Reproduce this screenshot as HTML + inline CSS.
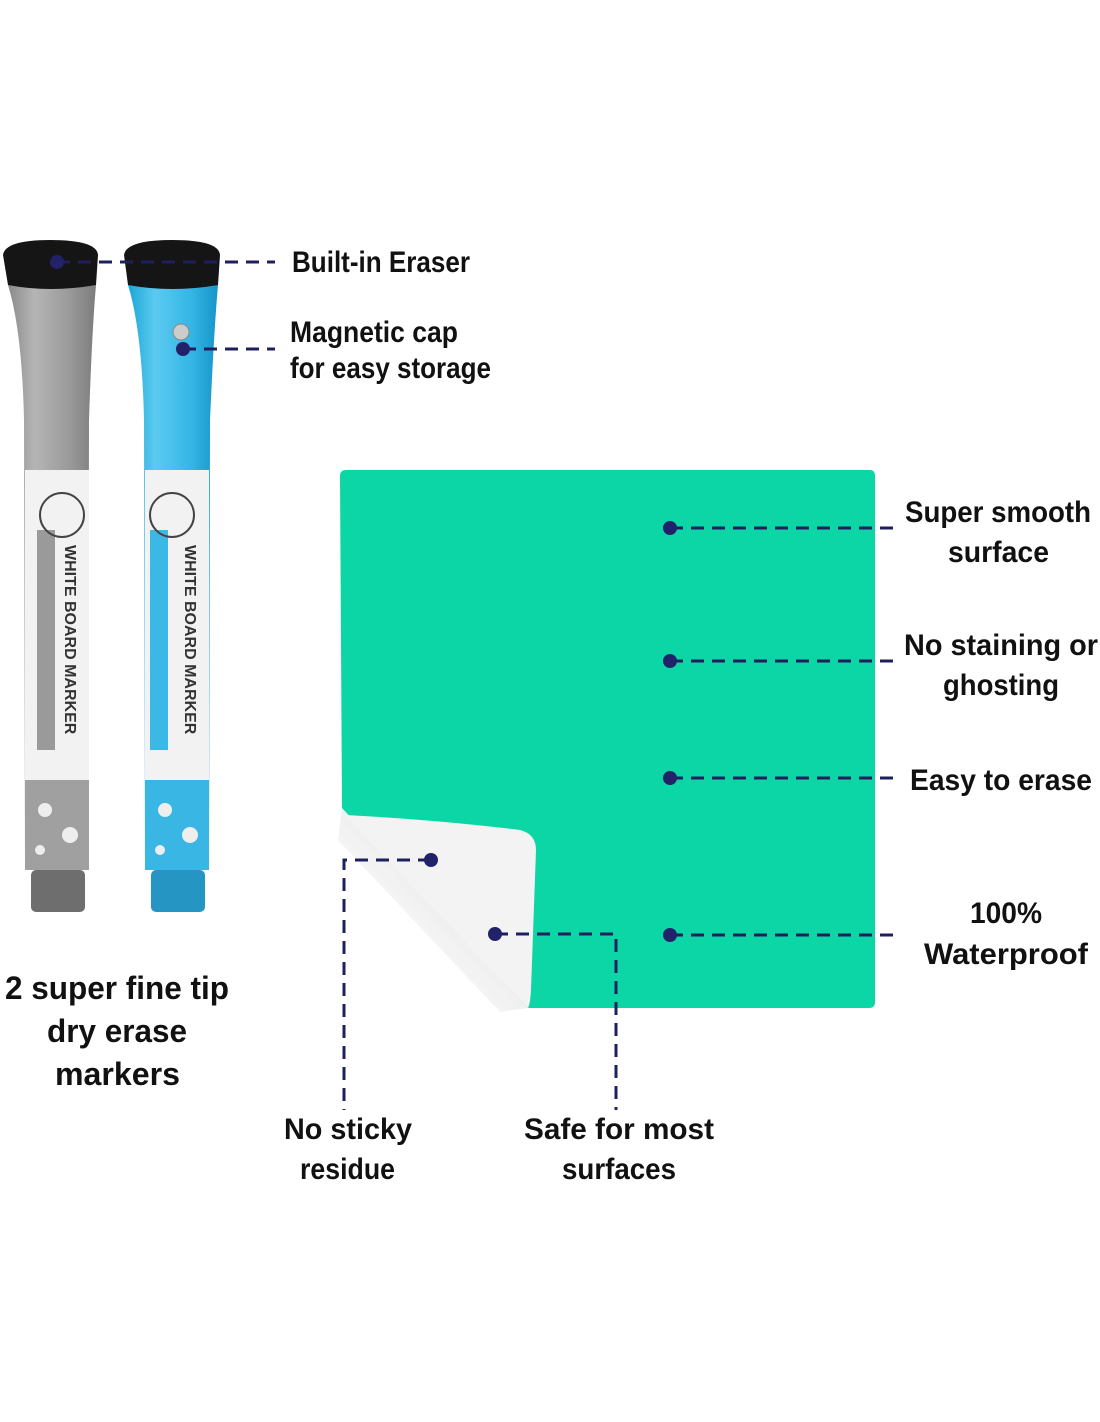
<!DOCTYPE html>
<html><head><meta charset="utf-8"><style>
html,body{margin:0;padding:0;background:#fff;}
svg{display:block;}
text{font-family:"Liberation Sans",sans-serif;font-weight:bold;fill:#111;font-size:30px;}
.d{stroke:#1f1f5e;stroke-width:3;stroke-dasharray:13 8;fill:none;}
.dot{fill:#22226a;}
</style></head><body>
<svg width="1100" height="1422" viewBox="0 0 1100 1422" xmlns="http://www.w3.org/2000/svg">
<defs>
<linearGradient id="gr" x1="0" x2="1"><stop offset="0" stop-color="#8a8a8a"/><stop offset=".3" stop-color="#b5b5b5"/><stop offset=".7" stop-color="#9a9a9a"/><stop offset="1" stop-color="#7c7c7c"/></linearGradient>
<linearGradient id="bl" x1="0" x2="1"><stop offset="0" stop-color="#1aa6d8"/><stop offset=".3" stop-color="#5ccaf0"/><stop offset=".7" stop-color="#34b6e6"/><stop offset="1" stop-color="#1594c8"/></linearGradient>
<linearGradient id="sh" x1="1" y1="0" x2="0" y2="1"><stop offset="0" stop-color="#999"/><stop offset="1" stop-color="#fff" stop-opacity="0"/></linearGradient>
</defs>
<!-- gray marker -->
<path d="M8 285 Q22 330 24 420 L25 870 L88 870 L89 420 Q92 330 96 285 Z" fill="url(#gr)"/>
<rect x="25" y="470" width="64" height="320" fill="#f2f2f2"/>
<rect x="37" y="530" width="18" height="220" fill="#9a9a9a"/>
<circle cx="62" cy="515" r="22" fill="none" stroke="#444" stroke-width="2"/>
<rect x="25" y="780" width="64" height="90" fill="#a0a0a0"/>
<circle cx="45" cy="810" r="7" fill="#eee"/><circle cx="70" cy="835" r="8" fill="#eee"/><circle cx="40" cy="850" r="5" fill="#eee"/>
<rect x="31" y="870" width="54" height="42" rx="5" fill="#6e6e6e"/>
<path d="M3 255 Q5 240 50 240 Q97 240 98 255 L96 285 Q50 293 8 285 Z" fill="#151515"/>
<!-- blue marker -->
<path d="M128 285 Q142 330 144 420 L145 870 L209 870 L210 420 Q214 330 218 285 Z" fill="url(#bl)"/>
<rect x="145" y="470" width="64" height="320" fill="#f2f2f2"/>
<rect x="150" y="530" width="18" height="220" fill="#3cb8e6"/>
<circle cx="172" cy="515" r="22" fill="none" stroke="#444" stroke-width="2"/>
<rect x="145" y="780" width="64" height="90" fill="#3ab6e4"/>
<circle cx="165" cy="810" r="7" fill="#eee"/><circle cx="190" cy="835" r="8" fill="#eee"/><circle cx="160" cy="850" r="5" fill="#eee"/>
<rect x="151" y="870" width="54" height="42" rx="5" fill="#2596c4"/>
<path d="M124 255 Q126 240 172 240 Q219 240 220 255 L218 285 Q172 293 128 285 Z" fill="#151515"/>
<circle cx="181" cy="332" r="8" fill="#ccc" stroke="#888"/>
<text x="65" y="545" transform="rotate(90 65 545)" style="font-size:16px;fill:#333">WHITE BOARD MARKER</text>
<text x="185" y="545" transform="rotate(90 185 545)" style="font-size:16px;fill:#333">WHITE BOARD MARKER</text>
<!-- board -->
<path d="M342 808 L528 1008 L500 1012 L338 840 Z" fill="url(#sh)" opacity=".6"/>
<path d="M340 476 Q340 470 346 470 L870 470 Q875 470 875 476 L875 1002 Q875 1008 869 1008 L528 1008 L342 808 Z" fill="#0cd6a5"/>
<path d="M345 815 Q440 820 520 830 Q536 834 536 850 L531 990 Q530 1005 528 1008 Z" fill="#f3f3f3"/>
<!-- connectors -->
<path class="d" d="M57 262 H275"/><circle class="dot" cx="57" cy="262" r="7"/>
<path class="d" d="M183 349 H275"/><circle class="dot" cx="183" cy="349" r="7"/>
<path class="d" d="M670 528 H898"/><circle class="dot" cx="670" cy="528" r="7"/>
<path class="d" d="M670 661 H898"/><circle class="dot" cx="670" cy="661" r="7"/>
<path class="d" d="M670 778 H898"/><circle class="dot" cx="670" cy="778" r="7"/>
<path class="d" d="M670 935 H898"/><circle class="dot" cx="670" cy="935" r="7"/>
<path class="d" d="M431 860 H344 V1110"/><circle class="dot" cx="431" cy="860" r="7"/>
<path class="d" d="M495 934 H616 V1110"/><circle class="dot" cx="495" cy="934" r="7"/>
<!-- labels -->
<g lengthAdjust="spacingAndGlyphs">
<text x="292" y="272" textLength="178" lengthAdjust="spacingAndGlyphs">Built-in Eraser</text>
<text x="290" y="342" textLength="168" lengthAdjust="spacingAndGlyphs">Magnetic cap</text>
<text x="290" y="378" textLength="201" lengthAdjust="spacingAndGlyphs">for easy storage</text>
<text x="905" y="522" textLength="186" lengthAdjust="spacingAndGlyphs">Super smooth</text>
<text x="948" y="562" textLength="101" lengthAdjust="spacingAndGlyphs">surface</text>
<text x="904" y="655" textLength="194" lengthAdjust="spacingAndGlyphs">No staining or</text>
<text x="943" y="695" textLength="116" lengthAdjust="spacingAndGlyphs">ghosting</text>
<text x="910" y="790" textLength="182" lengthAdjust="spacingAndGlyphs">Easy to erase</text>
<text x="970" y="923" textLength="72" lengthAdjust="spacingAndGlyphs">100%</text>
<text x="924" y="964" textLength="164" lengthAdjust="spacingAndGlyphs">Waterproof</text>
<text x="284" y="1139" textLength="128" lengthAdjust="spacingAndGlyphs">No sticky</text>
<text x="300" y="1179" textLength="95" lengthAdjust="spacingAndGlyphs">residue</text>
<text x="524" y="1139" textLength="190" lengthAdjust="spacingAndGlyphs">Safe for most</text>
<text x="562" y="1179" textLength="114" lengthAdjust="spacingAndGlyphs">surfaces</text>
<text x="5" y="999" textLength="224" lengthAdjust="spacingAndGlyphs" style="font-size:32px">2 super fine tip</text>
<text x="47" y="1042" textLength="140" lengthAdjust="spacingAndGlyphs" style="font-size:32px">dry erase</text>
<text x="55" y="1085" textLength="125" lengthAdjust="spacingAndGlyphs" style="font-size:32px">markers</text>
</g>
</svg>
</body></html>
